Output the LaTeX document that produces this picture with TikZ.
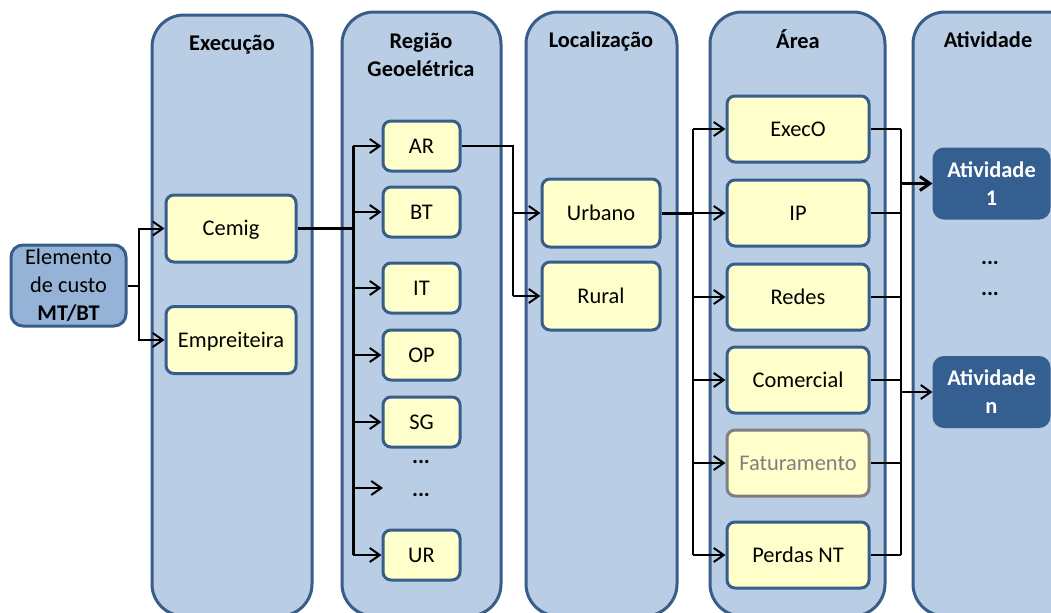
\documentclass[tikz,border=0pt]{standalone}
\usepackage{fontspec}
\setmainfont{Carlito}
\usepackage{xcolor}
\usetikzlibrary{arrows.meta}

\definecolor{spaltenblau}{HTML}{B9CDE5}
\definecolor{randblau}{HTML}{385D8A}
\definecolor{feldgelb}{HTML}{FFFFCC}
\definecolor{mittelblau}{HTML}{95B3D7}
\definecolor{dunkelblau}{HTML}{365F91}
\definecolor{randgrau}{HTML}{7F7F7F}

\begin{document}
\begin{tikzpicture}[x=0.5pt,y=-0.5pt,
    every node/.style={font=\fontsize{11.2}{14}\selectfont,align=center,inner sep=0pt},
    zeile/.style={text height=8pt,text depth=0.8pt},
    spalte/.style={draw=randblau,fill=spaltenblau,line width=1.5pt,rounded corners=16pt},
    kopf/.style={zeile,font=\fontsize{11.2}{14}\selectfont\bfseries},
    feld/.style={zeile,draw=randblau,fill=feldgelb,line width=1.5pt,rounded corners=4pt},
    ziel/.style={draw=dunkelblau,fill=dunkelblau,text=white,line width=1.5pt,rounded corners=5pt,
      font=\fontsize{11.2}{14}\selectfont\bfseries,minimum width=57.5pt,minimum height=34.5pt},
    punkte/.style={font=\fontsize{11.2}{14}\selectfont\bfseries},
    verb/.style={line width=1pt},
    mittel/.style={line width=1.25pt},
    dick/.style={line width=1.5pt},
    pfeil/.style={verb,-{Straight Barb[length=5pt,width=7pt]}}
  ]
    \clip (0,0) rectangle (1051,612);

    % Spalten
    \draw[spalte] (152,15) rectangle (312,616);
    \draw[spalte] (342,12) rectangle (501,616);
    \draw[spalte] (526,12) rectangle (677,616);
    \draw[spalte] (710,12) rectangle (885,616);
    \draw[spalte] (913,12) rectangle (1090,616);

    % Kopfzeilen
    \node[kopf] (kExec) at (232,43) {Execução};
    \node[kopf,anchor=base] (kRegiao) at (421,76) {Região\\Geoelétrica};
    \node[kopf] (kLocal) at (601,40) {Localização};
    \node[kopf] (kArea) at (798,41) {Área};
    \node[kopf] (kAtiv) at (988,40) {Atividade};

    % Elemento de custo
    \node[draw=randblau,fill=mittelblau,line width=1.5pt,rounded corners=6pt,
      minimum width=57.5pt,minimum height=40.5pt] (elem) at (68.5,285.5)
      {Elemento\\de custo\\\textbf{MT/BT}};

    % Execucao
    \node[feld,minimum width=65pt,minimum height=33.5pt] (cemig) at (231,228.5) {Cemig};
    \node[feld,minimum width=65pt,minimum height=33.5pt] (empr) at (231,340) {Empreiteira};

    % Regiao
    \foreach \n/\t/\y in {ar/AR/146,bt/BT/212,it/IT/288,op/OP/355,sg/SG/422,ur/UR/555}
      \node[feld,minimum width=38.5pt,minimum height=25pt] (\n) at (421.5,\y) {\t};
    \node[punkte] (punkteA) at (421,462) {...};
    \node[punkte] (punkteB) at (421,495) {...};
    \coordinate (mehr) at (383,488);

    % Localizacao
    \node[feld,minimum width=59pt,minimum height=34pt] (urbano) at (601,213) {Urbano};
    \node[feld,minimum width=59pt,minimum height=34pt] (rural) at (601,296) {Rural};

    % Area
    \foreach \n/\t/\y in {execo/ExecO/129,ip/IP/213,redes/Redes/297,comercial/Comercial/380,perdas/Perdas NT/555}
      \node[feld,minimum width=71pt,minimum height=33pt] (\n) at (798,\y) {\t};
    \node[feld,draw=randgrau,text=randgrau,minimum width=71pt,minimum height=33pt] (fatur) at (798,463) {Faturamento};

    % Atividade
    \node[ziel] (ativA) at (991.5,183.5) {Atividade\\1};
    \node[ziel] (ativN) at (991.5,392) {Atividade\\n};
    \node[punkte] (punkteC) at (990,263) {...};
    \node[punkte] (punkteD) at (990,294) {...};

    % Sammelschienen
    \coordinate (busA) at (353,0);
    \coordinate (busB) at (513,0);
    \coordinate (busC) at (693,0);
    \coordinate (busD) at (901,0);

    % Elemento -> Execucao
    \draw[verb] (elem.east) -- ++(11,0) coordinate (gabel);
    \draw[pfeil] (gabel) |- (cemig.west);
    \draw[pfeil] (gabel) |- (empr.west);

    % Execucao -> Regiao
    \draw[dick] (cemig.east) -- (cemig.east -| busA);
    \draw[dick] (ar.west -| busA) -- (ur.west -| busA);
    \foreach \n in {ar,bt,it,op,sg,ur}
      \draw[pfeil] (\n.west -| busA) -- (\n.west);
    \draw[pfeil] (mehr -| busA) -- (mehr);

    % Regiao -> Localizacao
    \draw[mittel] (ar.east) -- (ar.east -| busB) -- (rural.west -| busB);
    \draw[pfeil] (urbano.west -| busB) -- (urbano.west);
    \draw[pfeil] (rural.west -| busB) -- (rural.west);

    % Localizacao -> Area
    \draw[dick] (urbano.east) -- (urbano.east -| busC);
    \draw[verb] (execo.west -| busC) -- (perdas.west -| busC);
    \foreach \n in {execo,ip,redes,comercial,fatur,perdas}
      \draw[pfeil] (\n.west -| busC) -- (\n.west);

    % Area -> Atividade
    \foreach \n in {execo,ip,redes,comercial,fatur,perdas}
      \draw[verb] (\n.east) -- (\n.east -| busD);
    \draw[verb] (execo.east -| busD) -- (perdas.east -| busD);
    \draw[pfeil,dick] (ativA.west -| busD) -- (ativA.west);
    \draw[pfeil] (ativN.west -| busD) -- (ativN.west);
  \end{tikzpicture}
\end{document}
